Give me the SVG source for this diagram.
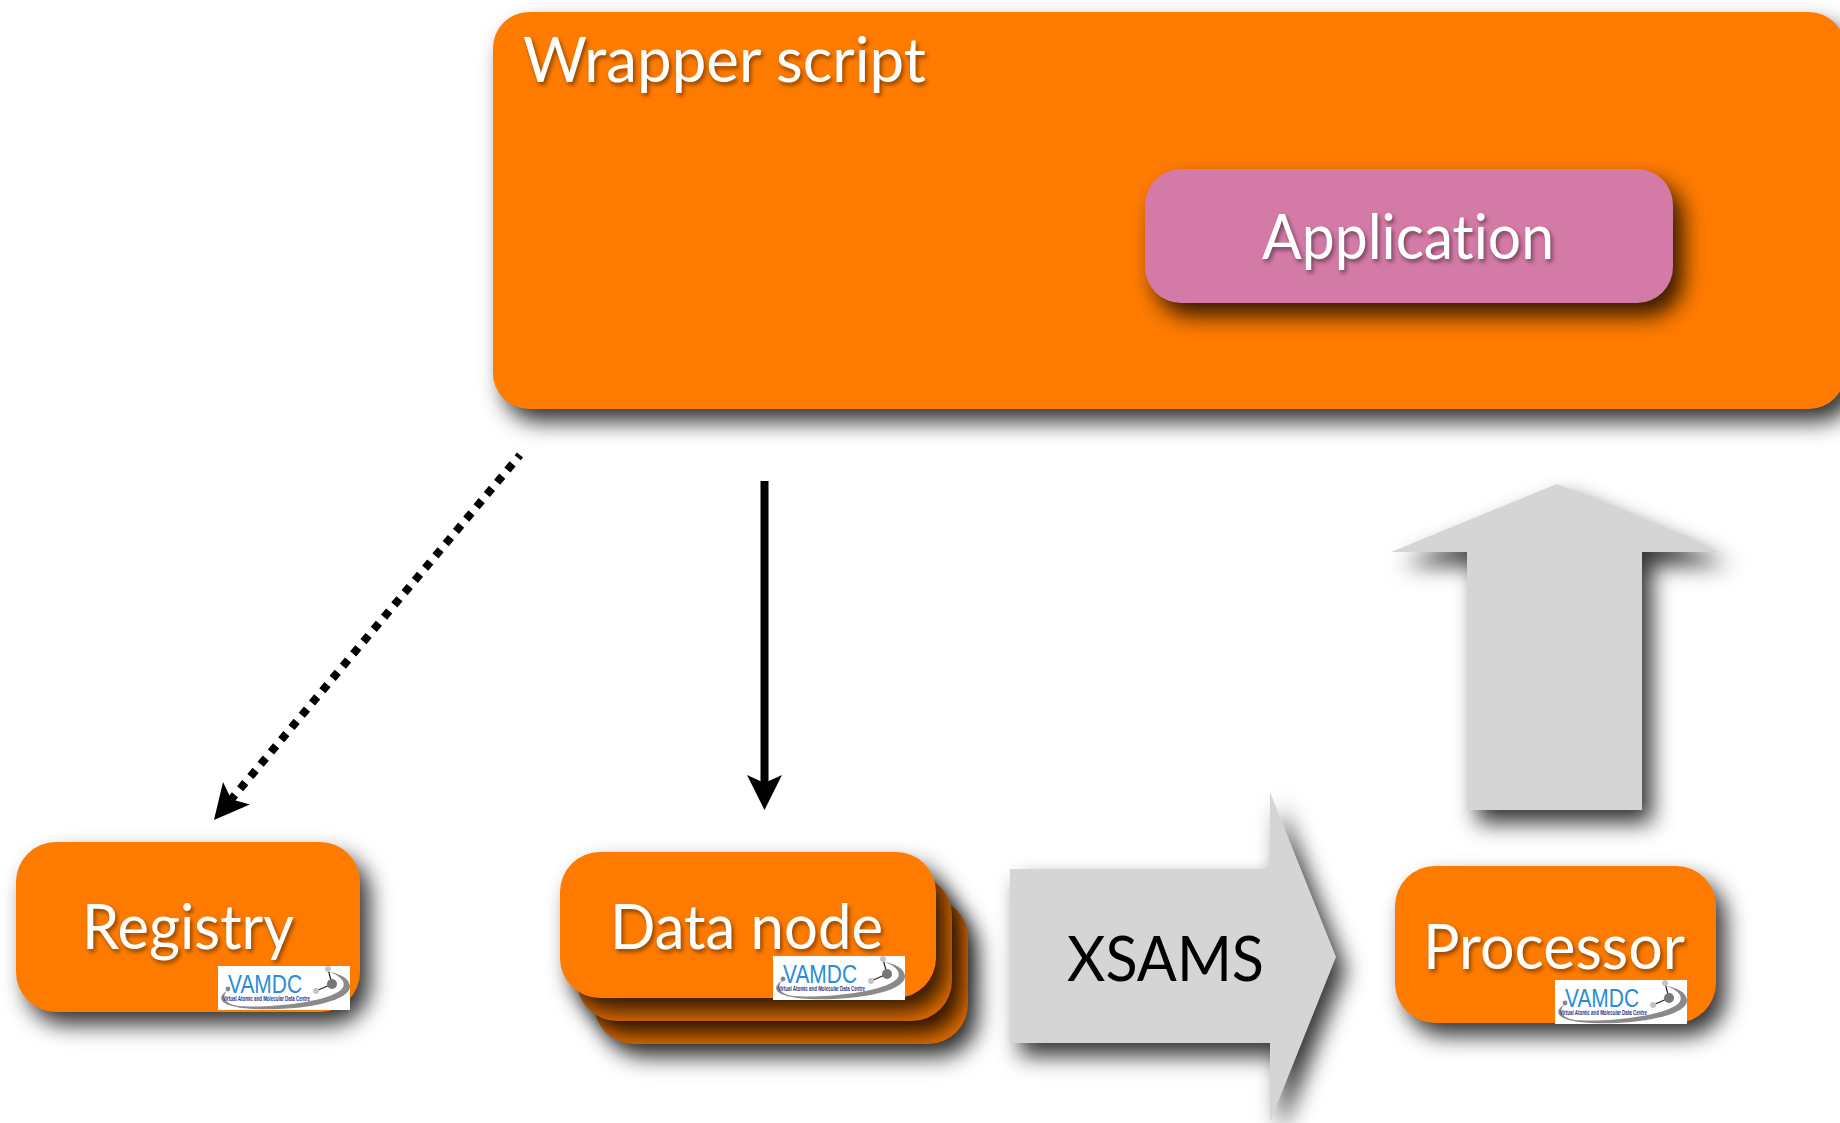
<svg xmlns="http://www.w3.org/2000/svg" xmlns:xlink="http://www.w3.org/1999/xlink" width="1840" height="1123" viewBox="0 0 1840 1123">
<style>
.lbl{font-family:"Lato","Open Sans","Liberation Sans",sans-serif;font-size:61px;fill:#fff;filter:url(#ts);font-variant-ligatures:none}
.blk{font-family:"Lato","Open Sans","Liberation Sans",sans-serif;font-size:61px;fill:#000}
.or{fill:#ff7b00}
.or2{fill:#e87000}
.gr{fill:#d5d5d5}
.sh{filter:url(#ds)}
.vt{font-family:"Liberation Sans",sans-serif;fill:#2a8bd8}
.vs{font-family:"Liberation Sans",sans-serif;fill:#26388c;font-weight:bold}
</style>
<defs>
<filter id="ds" x="-30%" y="-30%" width="160%" height="170%" color-interpolation-filters="sRGB">
<feDropShadow dx="10" dy="13" stdDeviation="11" flood-color="#000" flood-opacity="0.8"/>
</filter>
<filter id="ts" x="-10%" y="-20%" width="120%" height="150%" color-interpolation-filters="sRGB">
<feDropShadow dx="2" dy="3" stdDeviation="2.2" flood-color="#000" flood-opacity="0.45"/>
</filter>
<marker id="head" markerUnits="userSpaceOnUse" markerWidth="40" markerHeight="40" refX="8" refY="20" orient="auto">
<path d="M35 20L0 2.5L8 20L0 37.5Z" fill="#000"/>
</marker>
<symbol id="logo" overflow="visible">
<rect width="132" height="44" fill="#fff"/>
<path d="M10 24C-2 31 -1 41 36 43C85 45 133 35 132 20C131 12 122 8 112 6C127 12 130 20 120 26C100 38 45 42 20 40C6 38 3 30 10 24Z" fill="#8a8a8a"/>
<text class="vt" x="10" y="27" font-size="26" textLength="74" lengthAdjust="spacingAndGlyphs">VAMDC</text>
<text class="vs" x="5" y="35" font-size="6.5" textLength="87" lengthAdjust="spacingAndGlyphs">Virtual Atomic and Molecular Data Centre</text>
<path d="M114 18L110 3M114 18L98 25" stroke="#222" stroke-width="1.2" fill="none"/>
<circle cx="10" cy="23" r="2.4" fill="#888"/>
<circle cx="114" cy="18" r="5" fill="#777"/>
<circle cx="110" cy="3" r="3" fill="#c4c4c4"/>
<circle cx="98" cy="25" r="3" fill="#c4c4c4"/>
</symbol>
</defs>
<rect width="1840" height="1123" fill="#fff"/>
<g id="wrapper">
<rect class="or sh" x="493" y="12" width="1352" height="397" rx="36"/>
<text class="lbl" x="523" y="82" textLength="403" lengthAdjust="spacingAndGlyphs">Wrapper script</text>
</g>
<g id="application">
<rect class="sh" x="1145" y="169" width="528" height="134" rx="36" fill="#d47aa6"/>
<text class="lbl" x="1262" y="259" textLength="292" lengthAdjust="spacingAndGlyphs">Application</text>
</g>
<g id="connectors">
<path d="M520 455L231.3 799.3" fill="none" stroke="#000" stroke-width="8" stroke-dasharray="8 8" stroke-dashoffset="4.4" marker-end="url(#head)"/>
<path d="M764.5 481V783" fill="none" stroke="#000" stroke-width="8" marker-end="url(#head)"/>
<path class="gr sh" d="M1557 484L1720 552H1642V810H1467V552H1391Z"/>
</g>
<g id="registry">
<rect class="or sh" x="16" y="842" width="344" height="170" rx="40"/>
<text class="lbl" x="82" y="949" textLength="212" lengthAdjust="spacingAndGlyphs">Registry</text>
<use href="#logo" x="218" y="966"/>
</g>
<g id="data-node">
<rect class="or2 sh" x="594" y="898" width="374" height="146" rx="40"/>
<rect class="or2 sh" x="577" y="875" width="375" height="146" rx="40"/>
<rect class="or sh" x="560" y="852" width="376" height="146" rx="40"/>
<text class="lbl" x="610" y="949" textLength="273" lengthAdjust="spacingAndGlyphs">Data node</text>
<use href="#logo" x="773" y="956"/>
</g>
<g id="xsams">
<path class="gr sh" d="M1010 869H1270V792L1336 957L1270 1122V1043H1010Z"/>
<text class="blk" x="1067" y="981" textLength="197" lengthAdjust="spacingAndGlyphs">XSAMS</text>
</g>
<g id="processor">
<rect class="or sh" x="1395" y="866" width="321" height="157" rx="40"/>
<text class="lbl" x="1423" y="969" textLength="262" lengthAdjust="spacingAndGlyphs">Processor</text>
<use href="#logo" x="1555" y="980"/>
</g>
</svg>
